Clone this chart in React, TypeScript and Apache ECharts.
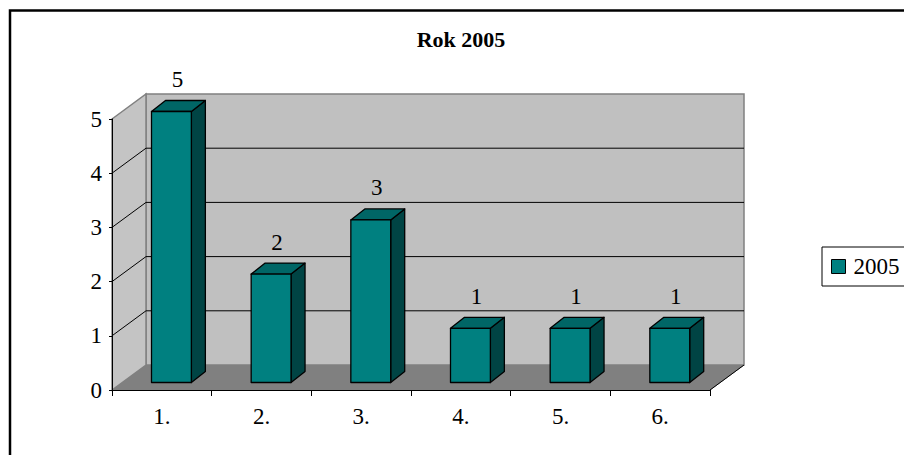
import React, { useEffect, useRef } from "react";
import * as echarts from "echarts";

const categories = ["1.", "2.", "3.", "4.", "5.", "6."];
const values2005 = [5, 2, 3, 1, 1, 1];
const gridValues = [1, 2, 3, 4];
const seriesName = "2005";
const titleText = "Rok 2005";

const FONT = '"Liberation Serif", "Times New Roman", serif';
const DX = 34;
const DY = -25;
const F0 = 0.3;
const BDX = 14;
const BDY = -11;

export default function App() {
  const ref = useRef<HTMLDivElement>(null);
  useEffect(() => {
    const chart = echarts.init(ref.current as HTMLDivElement, null, { renderer: "svg" });
    const option: any = {
      animation: false,
      backgroundColor: "#ffffff",
      title: {
        text: titleText,
        left: 461,
        top: 28,
        textAlign: "center",
        padding: 0,
        textStyle: { fontFamily: FONT, fontSize: 22, fontWeight: "bold", color: "#000" },
      },
      legend: {
        data: [
          {
            name: seriesName,
            icon: "rect",
            itemStyle: { color: "#008080", borderColor: "#000", borderWidth: 1 },
          },
        ],
        left: 822,
        top: 247,
        orient: "vertical",
        padding: [8, 10, 8, 9],
        borderColor: "#000",
        borderWidth: 1,
        itemWidth: 14,
        itemHeight: 14,
        textStyle: { fontFamily: FONT, fontSize: 23, color: "#000", padding: [0, 0, 0, 3] },
      },
      grid: { left: 112, right: 194, top: 119, bottom: 65, containLabel: false },
      xAxis: {
        type: "category",
        data: categories,
        z: 10,
        axisLine: { lineStyle: { color: "#000", width: 1 } },
        axisTick: { show: true, length: 6, lineStyle: { color: "#000" } },
        axisLabel: { fontFamily: FONT, fontSize: 23, color: "#000", margin: 15 },
        splitLine: { show: false },
      },
      yAxis: {
        type: "value",
        min: 0,
        max: 5,
        interval: 1,
        z: 10,
        axisLine: { show: true, lineStyle: { color: "#000", width: 1 } },
        axisTick: { show: true, length: 3, lineStyle: { color: "#000" } },
        axisLabel: { fontFamily: FONT, fontSize: 23, color: "#000", margin: 10 },
        splitLine: { show: false },
      },
      graphic: [
        {
          type: "rect",
          silent: true,
          shape: { x: 10, y: 10.5, width: 1000, height: 1000 },
          style: { fill: "transparent", stroke: "#000", lineWidth: 2.5 },
        },
      ],
      series: [
        {
          type: "custom",
          name: "walls",
          silent: true,
          z: 1,
          data: [[0, 0]],
          encode: { x: 0, y: 1 },
          renderItem: (params: any, api: any) => {
            const cs = params.coordSys;
            const x = cs.x;
            const y = cs.y;
            const w = cs.width;
            const h = cs.height;
            const children: any[] = [];
            children.push({
              type: "polygon",
              shape: { points: [[x, y + h], [x + DX, y + h + DY], [x + w + DX, y + h + DY], [x + w, y + h]] },
              style: { fill: "#808080", stroke: "#808080", lineWidth: 1 },
            });
            children.push({
              type: "rect",
              shape: { x: x + DX, y: y + DY, width: w, height: h },
              style: { fill: "#c0c0c0", stroke: "#808080", lineWidth: 1.5 },
            });
            children.push({
              type: "polygon",
              shape: { points: [[x, y], [x + DX, y + DY], [x + DX, y + h + DY], [x, y + h]] },
              style: { fill: "#c4c4c4", stroke: "#808080", lineWidth: 1.5 },
            });
            gridValues.forEach((k) => {
              const yk = api.coord([0, k])[1];
              children.push({
                type: "line",
                shape: { x1: x + DX, y1: yk + DY, x2: x + w + DX, y2: yk + DY },
                style: { stroke: "#000", lineWidth: 1 },
              });
              children.push({
                type: "line",
                shape: { x1: x, y1: yk, x2: x + DX, y2: yk + DY },
                style: { stroke: "#000", lineWidth: 1 },
              });
            });
            children.push({
              type: "line",
              shape: { x1: x + w, y1: y + h, x2: x + w + DX, y2: y + h + DY },
              style: { stroke: "#000", lineWidth: 1 },
            });
            return { type: "group", children };
          },
        },
        {
          type: "custom",
          name: seriesName,
          z: 5,
          itemStyle: { color: "#008080" },
          data: values2005.map((v, i) => [i, v]),
          encode: { x: 0, y: 1 },
          renderItem: (params: any, api: any) => {
            const i = api.value(0);
            const v = api.value(1);
            const base = api.coord([i, 0]);
            const top = api.coord([i, v]);
            const bw = api.size([1, 0])[0];
            const catLeft = base[0] - bw / 2;
            const x0 = catLeft + 0.294 * bw + DX * F0;
            const x1 = x0 + 0.4 * bw;
            const yB = base[1] + DY * F0;
            const yT = top[1] + DY * F0;
            const stroke = { stroke: "#000", lineWidth: 1.3, lineJoin: "round" };
            return {
              type: "group",
              children: [
                {
                  type: "polygon",
                  shape: { points: [[x1, yT], [x1 + BDX, yT + BDY], [x1 + BDX, yB + BDY], [x1, yB]] },
                  style: { fill: "#004444", ...stroke },
                },
                {
                  type: "polygon",
                  shape: { points: [[x0, yT], [x1, yT], [x1 + BDX, yT + BDY], [x0 + BDX, yT + BDY]] },
                  style: { fill: "#006666", ...stroke },
                },
                {
                  type: "rect",
                  shape: { x: x0, y: yT, width: x1 - x0, height: yB - yT },
                  style: { fill: "#008080", ...stroke },
                },
                {
                  type: "text",
                  x: (x0 + x1) / 2 + 6,
                  y: yT - 32,
                  style: {
                    text: String(v),
                    fill: "#000",
                    align: "center",
                    verticalAlign: "middle",
                    fontSize: 23,
                    fontFamily: FONT,
                  },
                },
              ],
            };
          },
        },
      ],
    };
    chart.setOption(option);
    return () => chart.dispose();
  }, []);
  return (
    <div style={{ position: "fixed", left: 0, top: 0, width: 904, height: 455, background: "#fff" }}>
      <div ref={ref} style={{ width: 904, height: 455 }} />
    </div>
  );
}
